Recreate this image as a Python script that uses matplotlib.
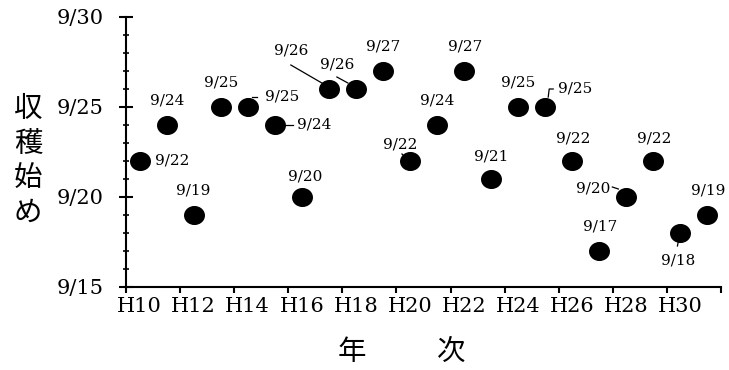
import numpy as np
import matplotlib
matplotlib.use("Agg")
import matplotlib.pyplot as plt
from matplotlib.path import Path
from matplotlib.transforms import Affine2D
from matplotlib.lines import Line2D

# data: harvest start day in September, H10..H31
years = ["H%d" % y for y in range(10, 32)]
start_day = [22, 24, 19, 25, 25, 24, 20, 26, 26, 27, 22, 24,
             27, 21, 25, 25, 22, 17, 20, 22, 18, 19]
y_ticks = [15, 20, 25, 30]

# label placement, offsets in pixels (right, up) from the point
label_off = [(33, 0), (1, 24), (0, 24), (0, 25), (34, 10), (39, 0),
             (3, 20), (-38, 39), (-19, 24), (0, 25), (-10, 17), (0, 24),
             (1, 25), (0, 23), (0, 25), (30, 19), (1, 23), (1, 25),
             (-33, 9), (1, 23), (-2, -27), (1, 25)]
# leader lines: index -> list of (dx, dy) pixel vertices from the point
leaders = {
    4: [(4, 10), (9, 10)],
    5: [(0, 0), (18, 0)],
    7: [(-38, 24), (-7, 6)],
    8: [(-19, 12), (-8, 6)],
    10: [(-8, 7), (-5, 4)],
    15: [(3, 10), (4, 18), (8, 18)],
    18: [(-14, 10), (-8, 8)],
    20: [(-2, -8), (-3, -13)],
}

num_font = "DejaVu Serif"
cjk_font = ["Noto Sans CJK JP", "DejaVu Sans"]

fig = plt.figure(figsize=(7.29, 3.70), dpi=100)
ax = fig.add_axes([126 / 729, 83 / 370, 595 / 729, 270 / 370])

x = np.arange(len(years))
ax.set_xlim(-0.5, len(years) - 0.5)
ax.set_ylim(15, 30)

# ellipse marker, a little wider than tall
ell = Path.unit_circle().transformed(Affine2D().scale(1.1, 1.0))
ax.scatter(x, start_day, marker=ell, s=228, color="black", zorder=3, linewidths=0)

# labels
for i, d in enumerate(start_day):
    dx, dy = label_off[i]
    ax.annotate("9/%d" % d, (x[i], d), xytext=(dx * 0.72, dy * 0.72),
                textcoords="offset points", ha="center", va="center",
                fontsize=11, family=num_font, zorder=4)

# leader lines in pixel space
for i, pts in leaders.items():
    px, py = ax.transData.transform((x[i], start_day[i]))
    xs = [px + p[0] for p in pts]
    ys = [py + p[1] for p in pts]
    fig.add_artist(Line2D(xs, ys, transform=None, color="black", lw=0.9, zorder=2))

# axes styling
for s in ["top", "right"]:
    ax.spines[s].set_visible(False)
for s in ["left", "bottom"]:
    ax.spines[s].set_linewidth(1.5)

ax.set_yticks(y_ticks)
ax.set_yticklabels(["9/%d" % t for t in y_ticks], family=num_font, fontsize=15)
ax.set_yticks(range(15, 31), minor=True)
ax.tick_params(axis="y", which="major", direction="inout", length=10, width=1.5, pad=11)
ax.tick_params(axis="y", which="minor", direction="inout", length=4.5, width=1.2)

# x: ticks on category boundaries, labels at centres of every other year
ax.set_xticks(np.arange(-0.5, len(years), 2))
ax.set_xticklabels([])
ax.set_xticks(x[::2], minor=True)
ax.set_xticklabels(years[::2], minor=True, family=num_font, fontsize=15)
ax.tick_params(axis="x", which="major", direction="out", length=4.5, width=1.5)
ax.tick_params(axis="x", which="minor", length=0, pad=7)

# axis titles
fig.text(28 / 729, 1 - 161 / 370, "収\n穫\n始\nめ", ha="center", va="center",
         family=cjk_font, fontsize=20.5, linespacing=1.2)
fig.text(352 / 729, 1 - 352 / 370, "年", ha="center", va="center",
         family=cjk_font, fontsize=20.5)
fig.text(451 / 729, 1 - 352 / 370, "次", ha="center", va="center",
         family=cjk_font, fontsize=20.5)

fig.savefig("out.png", dpi=100)
